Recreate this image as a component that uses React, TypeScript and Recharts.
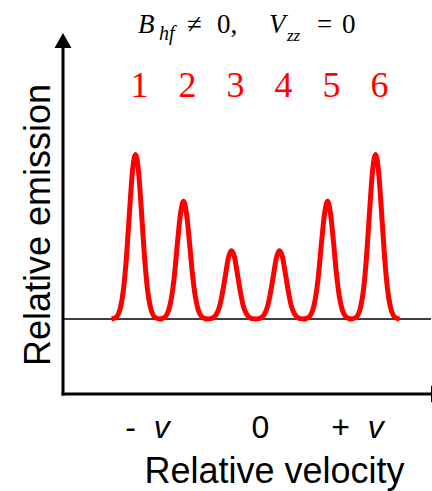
import { Line, LineChart, ReferenceDot, ReferenceLine, XAxis, YAxis } from "recharts"

// velocity grid (arbitrary units, peak spacing = 2)
const VELOCITY = [
  -6, -5.875, -5.75, -5.625, -5.5, -5.375, -5.25, -5.125,
  -5, -4.875, -4.75, -4.625, -4.5, -4.375, -4.25, -4.125,
  -4, -3.875, -3.75, -3.625, -3.5, -3.375, -3.25, -3.125,
  -3, -2.875, -2.75, -2.625, -2.5, -2.375, -2.25, -2.125,
  -2, -1.875, -1.75, -1.625, -1.5, -1.375, -1.25, -1.125,
  -1, -0.875, -0.75, -0.625, -0.5, -0.375, -0.25, -0.125,
  0, 0.125, 0.25, 0.375, 0.5, 0.625, 0.75, 0.875,
  1, 1.125, 1.25, 1.375, 1.5, 1.625, 1.75, 1.875,
  2, 2.125, 2.25, 2.375, 2.5, 2.625, 2.75, 2.875,
  3, 3.125, 3.25, 3.375, 3.5, 3.625, 3.75, 3.875,
  4, 4.125, 4.25, 4.375, 4.5, 4.625, 4.75, 4.875,
  5, 5.125, 5.25, 5.375, 5.5, 5.625, 5.75, 5.875,
  6,
]

// relative emission
const EMISSION = [
  0, 0.005, 0.02, 0.07, 0.18, 0.38, 0.65, 0.9,
  1, 0.9, 0.65, 0.38, 0.18, 0.07, 0.02, 0.005,
  0, 0.004, 0.015, 0.05, 0.13, 0.27, 0.465, 0.64,
  0.715, 0.64, 0.465, 0.27, 0.13, 0.05, 0.015, 0.004,
  0, 0.002, 0.009, 0.03, 0.075, 0.16, 0.27, 0.375,
  0.415, 0.375, 0.27, 0.16, 0.075, 0.03, 0.009, 0.002,
  0, 0.002, 0.009, 0.03, 0.075, 0.16, 0.27, 0.375,
  0.415, 0.375, 0.27, 0.16, 0.075, 0.03, 0.009, 0.002,
  0, 0.004, 0.015, 0.05, 0.13, 0.27, 0.465, 0.64,
  0.715, 0.64, 0.465, 0.27, 0.13, 0.05, 0.015, 0.004,
  0, 0.005, 0.02, 0.07, 0.18, 0.38, 0.65, 0.9,
  1, 0.9, 0.65, 0.38, 0.18, 0.07, 0.02, 0.005,
  0,
]

const PEAK_POS = [-5, -3, -1, 1, 3, 5]
const PEAK_LABELS = ["1", "2", "3", "4", "5", "6"]
const LABEL_Y = 1.35

const TICK_VALUES = [-4.5, 0.2, 4.25]
const TICK_LABELS = ["- v", "0", "+ v"]

const X_MIN = -8.02
const X_MAX = 7.31
const Y_MIN = -0.456
const Y_MAX = 1.647

const data = VELOCITY.map((v, i) => ({ v, e: EMISSION[i] }))

const SANS = "'Liberation Sans', Arial, sans-serif"
const SERIF = "'Liberation Serif', 'Times New Roman', serif"

function VelocityTick(props: any) {
  const { x, y, index } = props
  const label = TICK_LABELS[index] ?? ""
  const sign = label.endsWith("v") ? label.slice(0, -1) : label
  const hasV = label.endsWith("v")
  return (
    <text
      x={x}
      y={y + 44}
      textAnchor="middle"
      fontFamily={SANS}
      fontSize={32}
      fill="#000"
      style={{ whiteSpace: "pre" }}
    >
      {sign}
      {hasV && <tspan fontStyle="italic">{" v"}</tspan>}
    </text>
  )
}

export default function App() {
  return (
    <div style={{ position: "absolute", left: 0, top: 0, width: 432, height: 491, background: "#fff" }}>
      <LineChart
        width={432}
        height={491}
        data={data}
        margin={{ top: 48, right: 1, bottom: 0, left: 62 }}
      >
        <XAxis
          type="number"
          dataKey="v"
          domain={[X_MIN, X_MAX]}
          allowDataOverflow
          ticks={TICK_VALUES}
          interval={0}
          height={97}
          tickLine={false}
          tickSize={0}
          tickMargin={0}
          axisLine={{ stroke: "#000", strokeWidth: 3, strokeLinecap: "square" }}
          tick={(p: any) => <VelocityTick {...p} />}
        />
        <YAxis
          type="number"
          domain={[Y_MIN, Y_MAX]}
          allowDataOverflow
          width={1}
          tick={false}
          tickLine={false}
          axisLine={{ stroke: "#000", strokeWidth: 3, strokeLinecap: "square" }}
        />
        <ReferenceLine y={0} stroke="#000" strokeWidth={1.5} />
        <Line
          type="monotone"
          dataKey="e"
          stroke="#ff0000"
          strokeWidth={5}
          dot={false}
          activeDot={false}
          isAnimationActive={false}
        />
        {PEAK_POS.map((p, i) => (
          <ReferenceDot
            key={p}
            x={p}
            y={LABEL_Y}
            r={0}
            shape={(s: any) => (
              <text x={s.cx + 4} y={s.cy} textAnchor="middle" fontFamily={SERIF} fontSize={36} fill="#ff0000">
                {PEAK_LABELS[i]}
              </text>
            )}
          />
        ))}
        <ReferenceDot
          x={X_MIN}
          y={Y_MAX}
          r={0}
          shape={(s: any) => (
            <path d={`M${s.cx - 8.5},${s.cy} L${s.cx + 8.5},${s.cy} L${s.cx},${s.cy - 15} Z`} fill="#000" />
          )}
        />
        <ReferenceDot
          x={X_MAX}
          y={Y_MIN}
          r={0}
          shape={(s: any) => (
            <path d={`M${s.cx},${s.cy - 8.5} L${s.cx},${s.cy + 8.5} L${s.cx + 15},${s.cy} Z`} fill="#000" />
          )}
        />
      </LineChart>
      <svg
        width={432}
        height={491}
        style={{ position: "absolute", left: 0, top: 0, pointerEvents: "none" }}
      >
        <g fontFamily={SERIF} fill="#000">
          <text x={138} y={33} fontSize={27} fontStyle="italic">B</text>
          <text x={159} y={40} fontSize={20} fontStyle="italic">hf</text>
          <text x={187} y={33} fontSize={27}>≠</text>
          <text x={217} y={33} fontSize={27}>0,</text>
          <text x={269} y={33} fontSize={27} fontStyle="italic">V</text>
          <text x={287} y={41} fontSize={17} fontStyle="italic">zz</text>
          <text x={317} y={33} fontSize={27}>=</text>
          <text x={342} y={33} fontSize={27}>0</text>
        </g>
        <text
          x={50}
          y={225}
          transform="rotate(-90, 50, 225)"
          textAnchor="middle"
          fontFamily={SANS}
          fontSize={36}
          fill="#000"
        >
          Relative emission
        </text>
        <text x={274.5} y={483} textAnchor="middle" fontFamily={SANS} fontSize={36} fill="#000">
          Relative velocity
        </text>
      </svg>
    </div>
  )
}
